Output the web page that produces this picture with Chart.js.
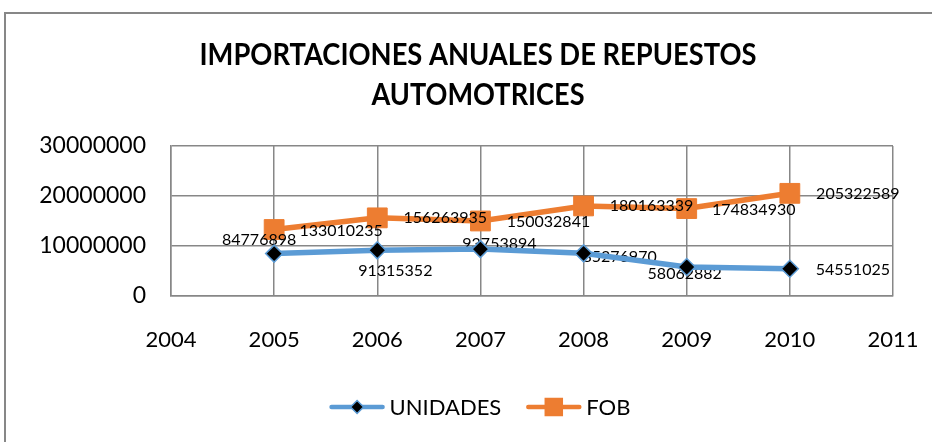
<!DOCTYPE html>
<html>
<head>
<meta charset="utf-8">
<script src="https://cdn.jsdelivr.net/npm/chart.js@4.4.1/dist/chart.umd.min.js"></script>
<style>
  html, body { margin: 0; padding: 0; background: #fff; }
  #wrap { width: 932px; height: 442px; position: relative; }
</style>
</head>
<body>
<div id="wrap"><canvas id="grafico" width="932" height="442"></canvas></div>
<script>
// datos
const anios = [2005, 2006, 2007, 2008, 2009, 2010];
const unidades = [8477689.8, 9131535.2, 9375389.4, 8527697.0, 5806288.2, 5455102.5];
const fob = [13301023.5, 15626393.5, 15003284.1, 18016333.9, 17483493.0, 20532258.9];
const etiquetasUnidades = ['84776898', '91315352', '93753894', '85276970', '58062882', '54551025'];
const etiquetasFob = ['133010235', '156263935', '150032841', '180163339', '174834930', '205322589'];
const ticksY = [0, 10000000, 20000000, 30000000];
const ticksX = [2004, 2005, 2006, 2007, 2008, 2009, 2010, 2011];
const titulo = ['IMPORTACIONES ANUALES DE REPUESTOS', 'AUTOMOTRICES'];
const nombres = ['UNIDADES', 'FOB'];

const azul = '#5b9bd5';
const naranja = '#ed7d31';
const gris = '#878787';
const fuente = 'Lato';

// desplazamiento de cada etiqueta respecto a su punto (centro del texto)
const despUnid = [[-15, -14], [18, 21], [19, -5], [36, 3], [-2, 7], [63, 1]];
const despFob = [[67, 1], [68, 0], [68, 1], [68, 0], [67, 1], [68, 1]];

const extras = {
    id: 'extras',
    beforeDraw(chart) {
        const ctx = chart.ctx;
        ctx.save();
        ctx.fillStyle = '#fff';
        ctx.fillRect(0, 0, chart.width, chart.height);
        ctx.strokeStyle = gris;
        ctx.lineWidth = 2;
        ctx.strokeRect(5, 13, 940, 440);
        // titulo
        ctx.fillStyle = '#000';
        ctx.font = 'bold 30px ' + fuente;
        ctx.textAlign = 'center';
        ctx.textBaseline = 'middle';
        const anchos = [557, 213];
        const ys = [55, 95];
        titulo.forEach((t, i) => {
            const w = ctx.measureText(t).width;
            const k = Math.min(1, anchos[i] / w);
            ctx.save();
            ctx.translate(478, ys[i]);
            ctx.scale(k, 1);
            ctx.fillText(t, 0, 0);
            ctx.restore();
        });
        ctx.restore();
    },
    afterDatasetDraw(chart, args) {
        if (args.index !== 1) return;
        const ctx = chart.ctx;
        ctx.save();
        ctx.fillStyle = '#000';
        ctx.font = '16px ' + fuente;
        ctx.textAlign = 'center';
        ctx.textBaseline = 'middle';
        const pares = [[0, etiquetasUnidades, despUnid], [1, etiquetasFob, despFob]];
        pares.forEach(([ds, textos, desp]) => {
            chart.getDatasetMeta(ds).data.forEach((p, i) => {
                ctx.fillText(textos[i], p.x + desp[i][0], p.y + desp[i][1]);
            });
        });
        ctx.restore();
    },
    afterDraw(chart) {
        const ctx = chart.ctx;
        ctx.save();
        ctx.font = '22px ' + fuente;
        ctx.textBaseline = 'middle';
        const y = 407;
        const largo = 55, sep = 5, entre = 25;
        const anchosTxt = nombres.map(n => ctx.measureText(n).width);
        const total = anchosTxt.reduce((a, w) => a + largo + sep + w, 0) + entre;
        let x = 480 - total / 2;
        chart.data.datasets.forEach((ds, i) => {
            ctx.strokeStyle = ds.borderColor;
            ctx.lineWidth = 4.5;
            ctx.lineCap = 'round';
            ctx.beginPath();
            ctx.moveTo(x + 2, y);
            ctx.lineTo(x + largo - 2, y);
            ctx.stroke();
            const cx = x + largo / 2;
            ctx.fillStyle = ds.pointBackgroundColor;
            ctx.strokeStyle = ds.pointBorderColor;
            ctx.lineWidth = 1.5;
            ctx.beginPath();
            if (i === 0) {
                ctx.moveTo(cx, y - 6.5);
                ctx.lineTo(cx + 6.5, y);
                ctx.lineTo(cx, y + 6.5);
                ctx.lineTo(cx - 6.5, y);
                ctx.closePath();
            } else {
                ctx.rect(cx - 8.5, y - 8.5, 17, 17);
            }
            ctx.fill();
            ctx.stroke();
            ctx.fillStyle = '#000';
            ctx.textAlign = 'left';
            ctx.fillText(nombres[i], x + largo + sep, y + 1);
            x += largo + sep + anchosTxt[i] + entre;
        });
        ctx.restore();
    }
};

new Chart(document.getElementById('grafico'), {
    type: 'line',
    data: {
        datasets: [{
            label: nombres[0],
            data: anios.map((a, i) => ({ x: a, y: unidades[i] })),
            borderColor: azul,
            borderWidth: 5.5,
            tension: 0,
            pointStyle: 'rectRot',
            pointRadius: 8.5,
            pointBackgroundColor: '#000',
            pointBorderColor: azul,
            pointBorderWidth: 1.5
        }, {
            label: nombres[1],
            data: anios.map((a, i) => ({ x: a, y: fob[i] })),
            borderColor: naranja,
            borderWidth: 5.5,
            tension: 0,
            pointStyle: 'rect',
            pointRadius: 14,
            pointBackgroundColor: naranja,
            pointBorderColor: naranja,
            pointBorderWidth: 1
        }]
    },
    options: {
        responsive: false,
        devicePixelRatio: 1,
        animation: false,
        layout: { padding: { left: 0, top: 146, right: 39, bottom: 86 } },
        plugins: {
            legend: { display: false },
            tooltip: { enabled: false },
            title: { display: false }
        },
        scales: {
            x: {
                type: 'linear',
                min: ticksX[0],
                max: ticksX[ticksX.length - 1],
                afterBuildTicks: s => { s.ticks = ticksX.map(v => ({ value: v })); },
                afterFit: s => { s.height = 60; s.paddingLeft = 0; s.paddingRight = 0; },
                grid: { color: gris, lineWidth: 1.5, drawTicks: false },
                border: { color: gris, width: 1.5 },
                ticks: {
                    color: '#000',
                    padding: 31,
                    maxRotation: 0,
                    font: { family: fuente, size: 22 },
                    callback: v => String(v)
                }
            },
            y: {
                min: ticksY[0],
                max: ticksY[ticksY.length - 1],
                afterBuildTicks: s => { s.ticks = ticksY.map(v => ({ value: v })); },
                afterFit: s => { s.width = 171; s.paddingTop = 0; s.paddingBottom = 0; },
                grid: { color: gris, lineWidth: 1.5, drawTicks: false },
                border: { color: gris, width: 1.5 },
                ticks: {
                    color: '#000',
                    padding: 25,
                    font: { family: fuente, size: 23 },
                    callback: v => String(v)
                }
            }
        }
    },
    plugins: [extras]
});
</script>
</body>
</html>
